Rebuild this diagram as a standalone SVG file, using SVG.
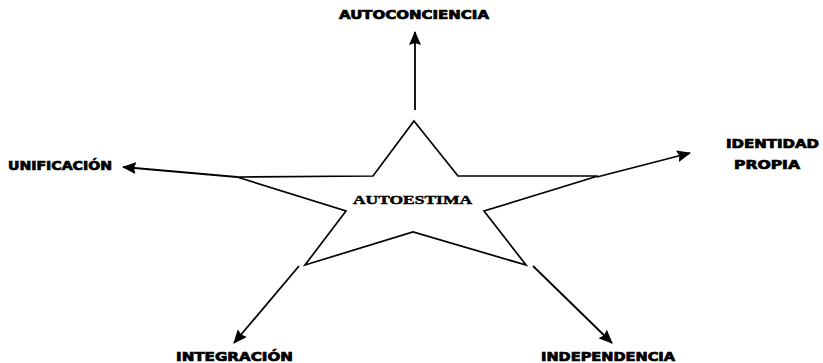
<svg xmlns="http://www.w3.org/2000/svg" width="823" height="363" viewBox="0 0 823 363">
<style>
.lbl{font-family:"DejaVu Sans","Liberation Sans",sans-serif;font-weight:bold;font-size:11.5px;fill:#000;stroke:#000;stroke-width:0.7}
.ctr{font-family:"Liberation Serif","DejaVu Serif",serif;font-weight:bold;font-size:13.5px;fill:#000;stroke:#000;stroke-width:0.5}
.conn{stroke:#000;stroke-width:1.8;fill:none}
</style>
<defs>
<marker id="ah" markerUnits="userSpaceOnUse" markerWidth="14" markerHeight="12" refX="13" refY="6" orient="auto">
<path d="M0,0 L14,6 L0,12 L2,6 z" fill="#000"/>
</marker>
</defs>
<rect width="823" height="363" fill="#fff"/>
<g id="connectors">
<line class="conn" x1="415" y1="110" x2="415" y2="32" marker-end="url(#ah)"/>
<line class="conn" x1="237" y1="177" x2="123" y2="167" marker-end="url(#ah)"/>
<line class="conn" x1="597" y1="177" x2="690" y2="153" marker-end="url(#ah)"/>
<line class="conn" x1="299" y1="266" x2="234" y2="343" marker-end="url(#ah)"/>
<line class="conn" x1="533" y1="266" x2="612" y2="343" marker-end="url(#ah)"/>
</g>
<g id="autoestima">
<polygon points="414,121 458,176 598,176 484,211 526,265 413,232 305,265 346,211 237,177 373,176" fill="#fff" stroke="#000" stroke-width="1.7" stroke-linejoin="miter"/>
<text class="ctr" x="353" y="204" textLength="119" lengthAdjust="spacingAndGlyphs">AUTOESTIMA</text>
</g>
<g id="autoconciencia">
<text class="lbl" x="339" y="18.5" textLength="150" lengthAdjust="spacingAndGlyphs">AUTOCONCIENCIA</text>
</g>
<g id="unificacion">
<text class="lbl" x="8" y="169.5" textLength="104" lengthAdjust="spacingAndGlyphs">UNIFICACIÓN</text>
</g>
<g id="identidad-propia">
<text class="lbl" x="726" y="148" textLength="93" lengthAdjust="spacingAndGlyphs">IDENTIDAD</text>
<text class="lbl" x="734" y="169" textLength="66" lengthAdjust="spacingAndGlyphs">PROPIA</text>
</g>
<g id="integracion">
<text class="lbl" x="176" y="360.5" textLength="117" lengthAdjust="spacingAndGlyphs">INTEGRACIÓN</text>
</g>
<g id="independencia">
<text class="lbl" x="541" y="360.5" textLength="134" lengthAdjust="spacingAndGlyphs">INDEPENDENCIA</text>
</g>
</svg>
